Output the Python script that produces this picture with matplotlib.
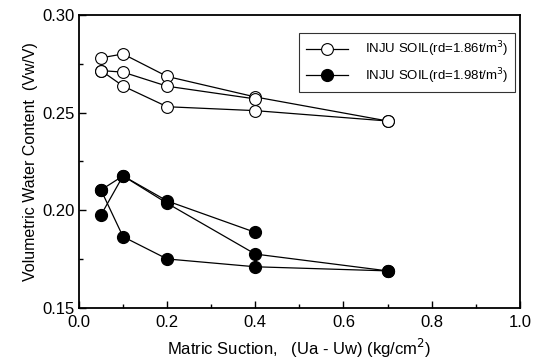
import matplotlib
matplotlib.use("Agg")
import matplotlib.pyplot as plt
from matplotlib.ticker import MultipleLocator

plt.rcParams['font.family'] = ['Liberation Sans', 'DejaVu Sans']

# rd = 1.86 t/m3 (open circles)
x_a1 = [0.05, 0.1, 0.2, 0.4, 0.7]
y_a1 = [0.278, 0.280, 0.2685, 0.258, 0.2457]
x_a2 = [0.05, 0.1, 0.2, 0.4]
y_a2 = [0.2715, 0.2707, 0.2635, 0.257]
x_a3 = [0.05, 0.1, 0.2, 0.4, 0.7]
y_a3 = [0.2715, 0.2636, 0.253, 0.251, 0.2457]

# rd = 1.98 t/m3 (filled circles)
x_b1 = [0.05, 0.1, 0.2, 0.4, 0.7]
y_b1 = [0.2104, 0.1865, 0.1751, 0.1711, 0.169]
x_b2 = [0.05, 0.1, 0.2, 0.4]
y_b2 = [0.1976, 0.2176, 0.2048, 0.1887]
x_b3 = [0.05, 0.1, 0.2, 0.4, 0.7]
y_b3 = [0.2104, 0.2176, 0.2036, 0.1776, 0.169]

fig = plt.figure(figsize=(5.37, 3.63), dpi=100)
ax = fig.add_axes([0.147, 0.1515, 0.821, 0.8075])

open_kw = dict(color='black', lw=0.9, marker='o', ms=8.5, mfc='white', mec='black', mew=0.8)
fill_kw = dict(color='black', lw=0.9, marker='o', ms=8.5, mfc='black', mec='black')

ax.plot(x_a1, y_a1, label='INJU SOIL(rd=1.86t/m$^3$)', **open_kw)
ax.plot(x_a2, y_a2, **open_kw)
ax.plot(x_a3, y_a3, **open_kw)
ax.plot(x_b1, y_b1, label='INJU SOIL(rd=1.98t/m$^3$)', **fill_kw)
ax.plot(x_b2, y_b2, **fill_kw)
ax.plot(x_b3, y_b3, **fill_kw)

ax.set_xlim(0.0, 1.0)
ax.set_ylim(0.15, 0.30)
ax.xaxis.set_major_locator(MultipleLocator(0.2))
ax.xaxis.set_minor_locator(MultipleLocator(0.1))
ax.yaxis.set_major_locator(MultipleLocator(0.05))
ax.yaxis.set_minor_locator(MultipleLocator(0.025))
ax.xaxis.set_major_formatter(plt.FormatStrFormatter('%.1f'))
ax.yaxis.set_major_formatter(plt.FormatStrFormatter('%.2f'))
ax.tick_params(which='both', direction='in', labelsize=12)
ax.tick_params(which='major', length=5, width=1)
ax.tick_params(which='minor', length=3, width=1)
ax.tick_params(axis='x', which='major', pad=5)
ax.tick_params(axis='y', which='major', pad=3)
for s in ax.spines.values():
    s.set_linewidth(1.3)

ax.set_xlabel('Matric Suction,   (Ua - Uw) (kg/cm$^2$)', fontsize=12, labelpad=5)
ax.set_ylabel('Volumetric Water Content  (Vw/V)', fontsize=11.5, labelpad=3)

leg = ax.legend(loc='upper right', bbox_to_anchor=(0.989, 0.939), borderaxespad=0,
                fontsize=9.5, frameon=True, fancybox=False, edgecolor='black',
                handlelength=3.2, borderpad=0.5, labelspacing=0.55, handletextpad=1.3)
leg.get_frame().set_linewidth(0.8)

fig.savefig('out.png', dpi=100)
